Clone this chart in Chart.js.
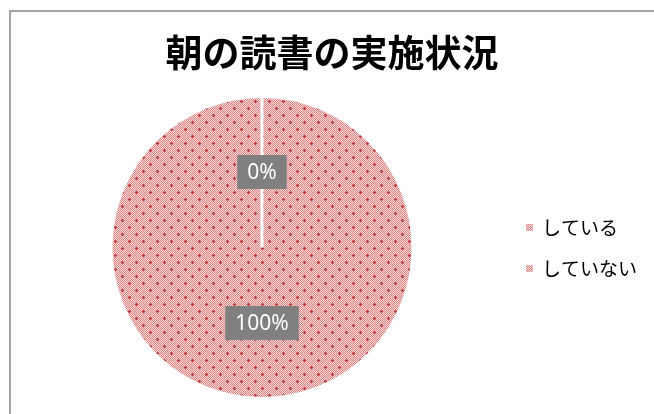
<!DOCTYPE html>
<html>
<head>
<meta charset="utf-8">
<script src="https://cdn.jsdelivr.net/npm/chart.js@4/dist/chart.umd.min.js"></script>
<style>
  html, body { margin: 0; padding: 0; background: #fff; overflow: hidden; }
  #wrap { position: absolute; left: 0; top: 0; width: 654px; height: 414px; overflow: hidden; }
  #frame { position: absolute; left: 9px; top: 10px; width: 720px; height: 520px; border: 2px solid #a3a3a3; box-sizing: border-box; }
  canvas { position: absolute; left: 0; top: 0; }
</style>
</head>
<body>
<div id="wrap">
  <div id="frame"></div>
  <canvas id="chart" width="654" height="414"></canvas>
</div>
<script>
// data
const chartTitle = '朝の読書の実施状況';
const categories = ['している', 'していない'];
const values = [0, 100];
const valueLabels = ['0%', '100%'];

// pink checker pattern with small red crosses (like the Excel fill)
function makePattern() {
  const t = document.createElement('canvas');
  t.width = 14; t.height = 14;
  const g = t.getContext('2d');
  for (let y = 0; y < 14; y++) {
    for (let x = 0; x < 14; x++) {
      g.fillStyle = (x + y) % 2 === 0 ? '#da8383' : '#f6d8d8';
      g.fillRect(x, y, 1, 1);
    }
  }
  g.fillStyle = '#c4383f';
  [[3, 3], [10, 10]].forEach(p => {
    g.fillRect(p[0] - 1, p[1], 3, 1);
    g.fillRect(p[0], p[1] - 1, 1, 3);
  });
  return document.getElementById('chart').getContext('2d').createPattern(t, 'repeat');
}
const fill = makePattern();

// title, legend and grey value boxes
const extras = {
  id: 'extras',
  afterDatasetsDraw(chart) {
    const ctx = chart.ctx;
    ctx.save();
    // value labels
    const arcs = chart.getDatasetMeta(0).data;
    ctx.font = '21px "Noto Sans"';
    ctx.textAlign = 'center';
    ctx.textBaseline = 'middle';
    arcs.forEach((arc, i) => {
      const p = arc.getCenterPoint();
      const w = ctx.measureText(valueLabels[i]).width + 20;
      const h = 34;
      ctx.fillStyle = '#808080';
      ctx.fillRect(p.x - w / 2, p.y - h / 2, w, h);
      ctx.fillStyle = '#ffffff';
      ctx.fillText(valueLabels[i], p.x, p.y + 1);
    });
    // title
    ctx.fillStyle = '#000';
    ctx.font = 'bold 37px "Noto Sans CJK JP"';
    ctx.fillText(chartTitle, 332, 53);
    // legend
    ctx.textAlign = 'left';
    ctx.font = '19px "Noto Sans CJK JP"';
    const ys = [228, 269];
    categories.forEach((c, i) => {
      ctx.fillStyle = fill;
      ctx.fillRect(526, ys[i] - 4, 7, 7);
      ctx.fillStyle = '#000';
      ctx.fillText(c, 542, ys[i]);
    });
    ctx.restore();
  }
};

new Chart(document.getElementById('chart'), {
  type: 'pie',
  data: {
    labels: categories,
    datasets: [{
      data: values,
      backgroundColor: [fill, fill],
      borderColor: '#ffffff',
      borderWidth: 3
    }]
  },
  options: {
    responsive: false,
    animation: false,
    layout: { padding: { left: 109, right: 239, top: 95, bottom: 14 } },
    plugins: {
      legend: { display: false },
      title: { display: false },
      tooltip: { enabled: false }
    }
  },
  plugins: [extras]
});
</script>
</body>
</html>
